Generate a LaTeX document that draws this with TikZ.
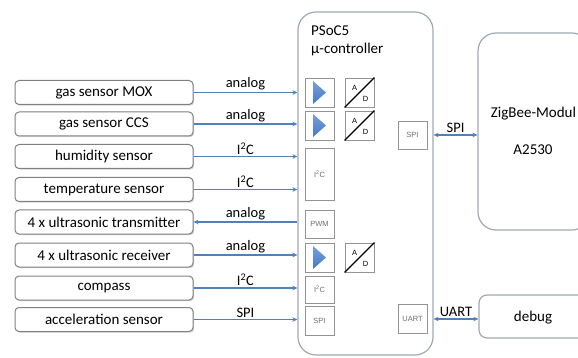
\documentclass[tikz,border=0pt]{standalone}
\usepackage{fontspec}
\setmainfont{Carlito}
\newfontfamily\smallsans{Liberation Sans}
\usetikzlibrary{arrows.meta,shadows,calc}

\definecolor{linkblue}{RGB}{79,129,189}
\definecolor{ampblue}{RGB}{66,120,200}
\definecolor{boxgray}{RGB}{128,128,128}
\definecolor{framegray}{RGB}{160,168,182}
\definecolor{tagtext}{RGB}{110,110,110}

\begin{document}
\begin{tikzpicture}[x=1pt,y=-1pt,
  sensor/.style={draw=boxgray, line width=1pt, rounded corners=4pt, fill=white,
    minimum width=178pt, minimum height=24pt, inner sep=0pt,
    font=\fontsize{15}{18}\selectfont,
    drop shadow={shadow xshift=1.2pt, shadow yshift=-1.2pt, opacity=0.35}},
  block/.style={draw=boxgray!85, line width=0.8pt, fill=white,
    minimum width=29pt, minimum height=#1, inner sep=0pt,
    font=\smallsans\fontsize{7.5}{9}\selectfont, text=tagtext,
    drop shadow={shadow xshift=0.8pt, shadow yshift=-0.8pt, opacity=0.3}},
  block/.default=29pt,
  module/.style={draw=framegray, line width=1.2pt, rounded corners=18pt, fill=white},
  link/.style={draw=linkblue, line width=1.3pt, -{Stealth[length=5pt,width=4.5pt]}},
  duplex/.style={draw=linkblue, line width=1.3pt,
    {Stealth[length=5pt,width=4.5pt]}-{Stealth[length=5pt,width=4.5pt]}},
  linklabel/.style={font=\fontsize{14.5}{16}\selectfont, inner sep=1.5pt},
  tinyletter/.style={font=\smallsans\fontsize{7.5}{8}\selectfont, inner sep=0pt},
]
\path[use as bounding box, clip] (0,0) rectangle (578,358);

% ---- microcontroller frame and title
\node[module, minimum width=135pt, minimum height=343pt] (psoc) at (365.5,183.5) {};
\node[anchor=west, align=left, font=\fontsize{15}{18}\selectfont, inner sep=0pt]
  (psoctitle) at (311,41) {PSoC5\\µ-controller};

% ---- external modules on the right
\node[module, minimum width=112pt, minimum height=197pt] (zig) at (534,131.5) {};
\node[font=\fontsize{15}{18}\selectfont] (zigname) at (533.5,114) {ZigBee-Modul};
\node[font=\fontsize{15}{18}\selectfont] (zigtype) at (533,150) {A2530};
\node[module, rounded corners=8pt, minimum width=121pt, minimum height=43pt] (dbg) at (539.5,316.5) {};
\node[font=\fontsize{15}{18}\selectfont] (dbgname) at (533,318) {debug};

% ---- sensors
\node[sensor] (s1) at (104,92.5) {gas sensor MOX};
\node[sensor] (s2) at (104,124)  {gas sensor CCS};
\node[sensor] (s3) at (104,156.5) {humidity sensor};
\node[sensor] (s4) at (104,189.5) {temperature sensor};
\node[sensor] (s5) at (104,222)  {4 x ultrasonic transmitter};
\node[sensor] (s6) at (104,255)  {4 x ultrasonic receiver};
\node[sensor] (s7) at (104,288)  {compass};
\node[sensor] (s8) at (104,319.5) {acceleration sensor};

% ---- peripheral blocks inside the controller
\node[block] (amp1) at (319.5,92.5) {};
\node[block] (amp2) at (319.5,125.5) {};
\node[block=52pt] (i2ca) at (319.5,174) {I\textsuperscript{2}C};
\node[block=28pt] (pwm) at (319.5,224) {PWM};
\node[block] (amp3) at (319.5,257.5) {};
\node[block=27pt] (i2cb) at (319.5,289.5) {I\textsuperscript{2}C};
\node[block] (spia) at (319.5,320.5) {SPI};

\node[block] (adc1) at (359.5,92.5) {};
\node[block] (adc2) at (359.5,125.5) {};
\node[block] (adc3) at (359.5,257.5) {};

\node[block=28pt] (spib) at (412.5,135) {SPI};
\node[block] (uart) at (412.5,319) {UART};

% amplifier triangles
\foreach \a in {amp1,amp2,amp3}{
  \shade[top color=ampblue!70!white, bottom color=ampblue]
    ($(\a.center)+(-6.5,-11.5)$) -- ($(\a.center)+(6.5,0)$) -- ($(\a.center)+(-6.5,11.5)$) -- cycle;
}
% A/D converter symbols
\foreach \d in {adc1,adc2,adc3}{
  \draw[line width=1.3pt, black] (\d.south west) -- (\d.north east);
  \node[tinyletter] at ($(\d.center)+(-5,-5)$) {A};
  \node[tinyletter] at ($(\d.center)+(6,6.5)$) {D};
}

% ---- sensor connections
\draw[link] (s1.east) -- (s1.east -| psoc.west) node[linklabel, midway, above] {analog};
\draw[link] (s2.east) -- (s2.east -| psoc.west) node[linklabel, midway, above] {analog};
\draw[link] (s3.east) -- (s3.east -| psoc.west) node[linklabel, midway, above] {I\textsuperscript{2}C};
\draw[link] (s4.east) -- (s4.east -| psoc.west) node[linklabel, midway, above] {I\textsuperscript{2}C};
\draw[link] (s5.east -| psoc.west) -- (s5.east) node[linklabel, midway, above] {analog};
\draw[link] (s6.east) -- (s6.east -| psoc.west) node[linklabel, midway, above] {analog};
\draw[link] (s7.east) -- (s7.east -| psoc.west) node[linklabel, midway, above] {I\textsuperscript{2}C};
\draw[link] (s8.east) -- (s8.east -| psoc.west) node[linklabel, midway, above] {SPI};

% ---- module connections
\draw[duplex] (spib.east -| psoc.east) -- (spib.east -| zig.west) node[linklabel, midway, above] {SPI};
\draw[duplex] (uart.east -| psoc.east) -- (uart.east -| dbg.west) node[linklabel, midway, above] {UART};
\end{tikzpicture}
\end{document}
